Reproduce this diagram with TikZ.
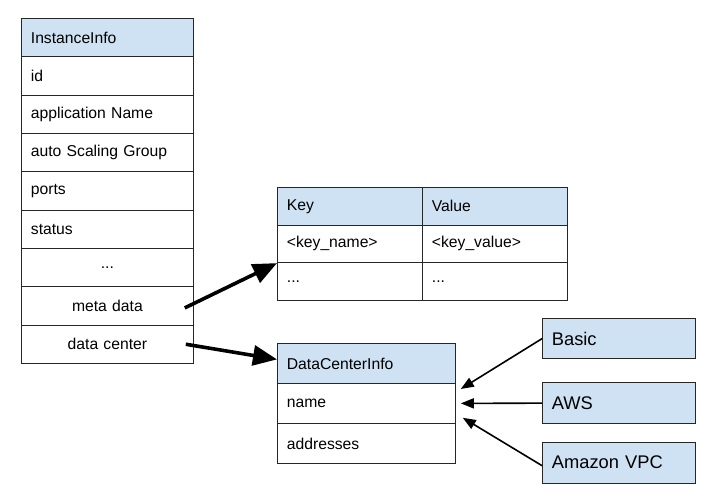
\documentclass[tikz,border=0pt]{standalone}
\usepackage{fontspec}
\setmainfont{Liberation Sans}
\usetikzlibrary{arrows.meta}
\definecolor{hdr}{HTML}{CFE2F3}
\begin{document}
\begin{tikzpicture}[x=1pt,y=-1pt,
  every node/.style={font=\fontsize{15.7}{18}\selectfont},
  cellbase/.style={draw=black!85, line width=0.8pt, anchor=north west, inner ysep=0pt, inner xsep=9.5pt, align=left},
  iicell/.style={cellbase, text width=153pt, minimum height=38.33pt},
  iimid/.style={iicell, align=center},
  kvcell/.style={cellbase, text width=126pt, minimum height=37.67pt},
  dccell/.style={cellbase, text width=159pt, minimum height=40pt},
  extbox/.style={cellbase, fill=hdr, text width=134pt, minimum height=40.5pt, font=\fontsize{18.3}{21}\selectfont},
  bigarrow/.style={line width=3.6pt, -{Triangle[length=24pt,width=20pt]}},
  smallarrow/.style={line width=1.6pt, -{Triangle[length=13pt,width=10pt]}}
]
\useasboundingbox (0,0) rectangle (715,502);
% InstanceInfo table
\node[iicell, fill=hdr] (ii) at (21,18) {InstanceInfo};
\node[iicell] (id) at (21,56.33) {id};
\node[iicell] (app) at (21,94.67) {application Name};
\node[iicell] (asg) at (21,133) {auto Scaling Group};
\node[iicell] (ports) at (21,171.33) {ports};
\node[iicell] (status) at (21,209.67) {status};
\node[iimid] (dots) at (21,248) {...};
\node[iimid] (md) at (21,286.33) {meta data};
\node[iimid] (dc) at (21,324.67) {data center};
% Key / Value table
\node[kvcell, fill=hdr] (key) at (277,187) {Key};
\node[kvcell, fill=hdr] (val) at (422,187) {Value};
\node[kvcell] (kn) at (277,224.67) {<key\_name>};
\node[kvcell] (kv) at (422,224.67) {<key\_value>};
\node[kvcell] (kd) at (277,262.33) {...};
\node[kvcell] (vd) at (422,262.33) {...};
% DataCenterInfo
\node[dccell, fill=hdr] (dci) at (277,343) {DataCenterInfo};
\node[dccell] (name) at (277,383) {name};
\node[dccell] (addr) at (277,423) {addresses};
% external boxes
\node[extbox] (basic) at (542,318) {Basic};
\node[extbox] (aws) at (542,382.5) {AWS};
\node[extbox] (vpc) at (542,442) {Amazon VPC};
% connectors
\draw[bigarrow] ([xshift=-9pt,yshift=-2pt]md.east) -- (kn.south west);
\draw[bigarrow] ([xshift=-8pt]dc.east) -- ([yshift=4pt]dci.west);
\draw[smallarrow] (basic.west) -- ([xshift=5pt,yshift=-6pt]name.north east);
\draw[smallarrow] (aws.west) -- ([xshift=5pt]name.east);
\draw[smallarrow] ([yshift=-3pt]vpc.west) -- ([xshift=7pt,yshift=6pt]name.south east);
\end{tikzpicture}
\end{document}
